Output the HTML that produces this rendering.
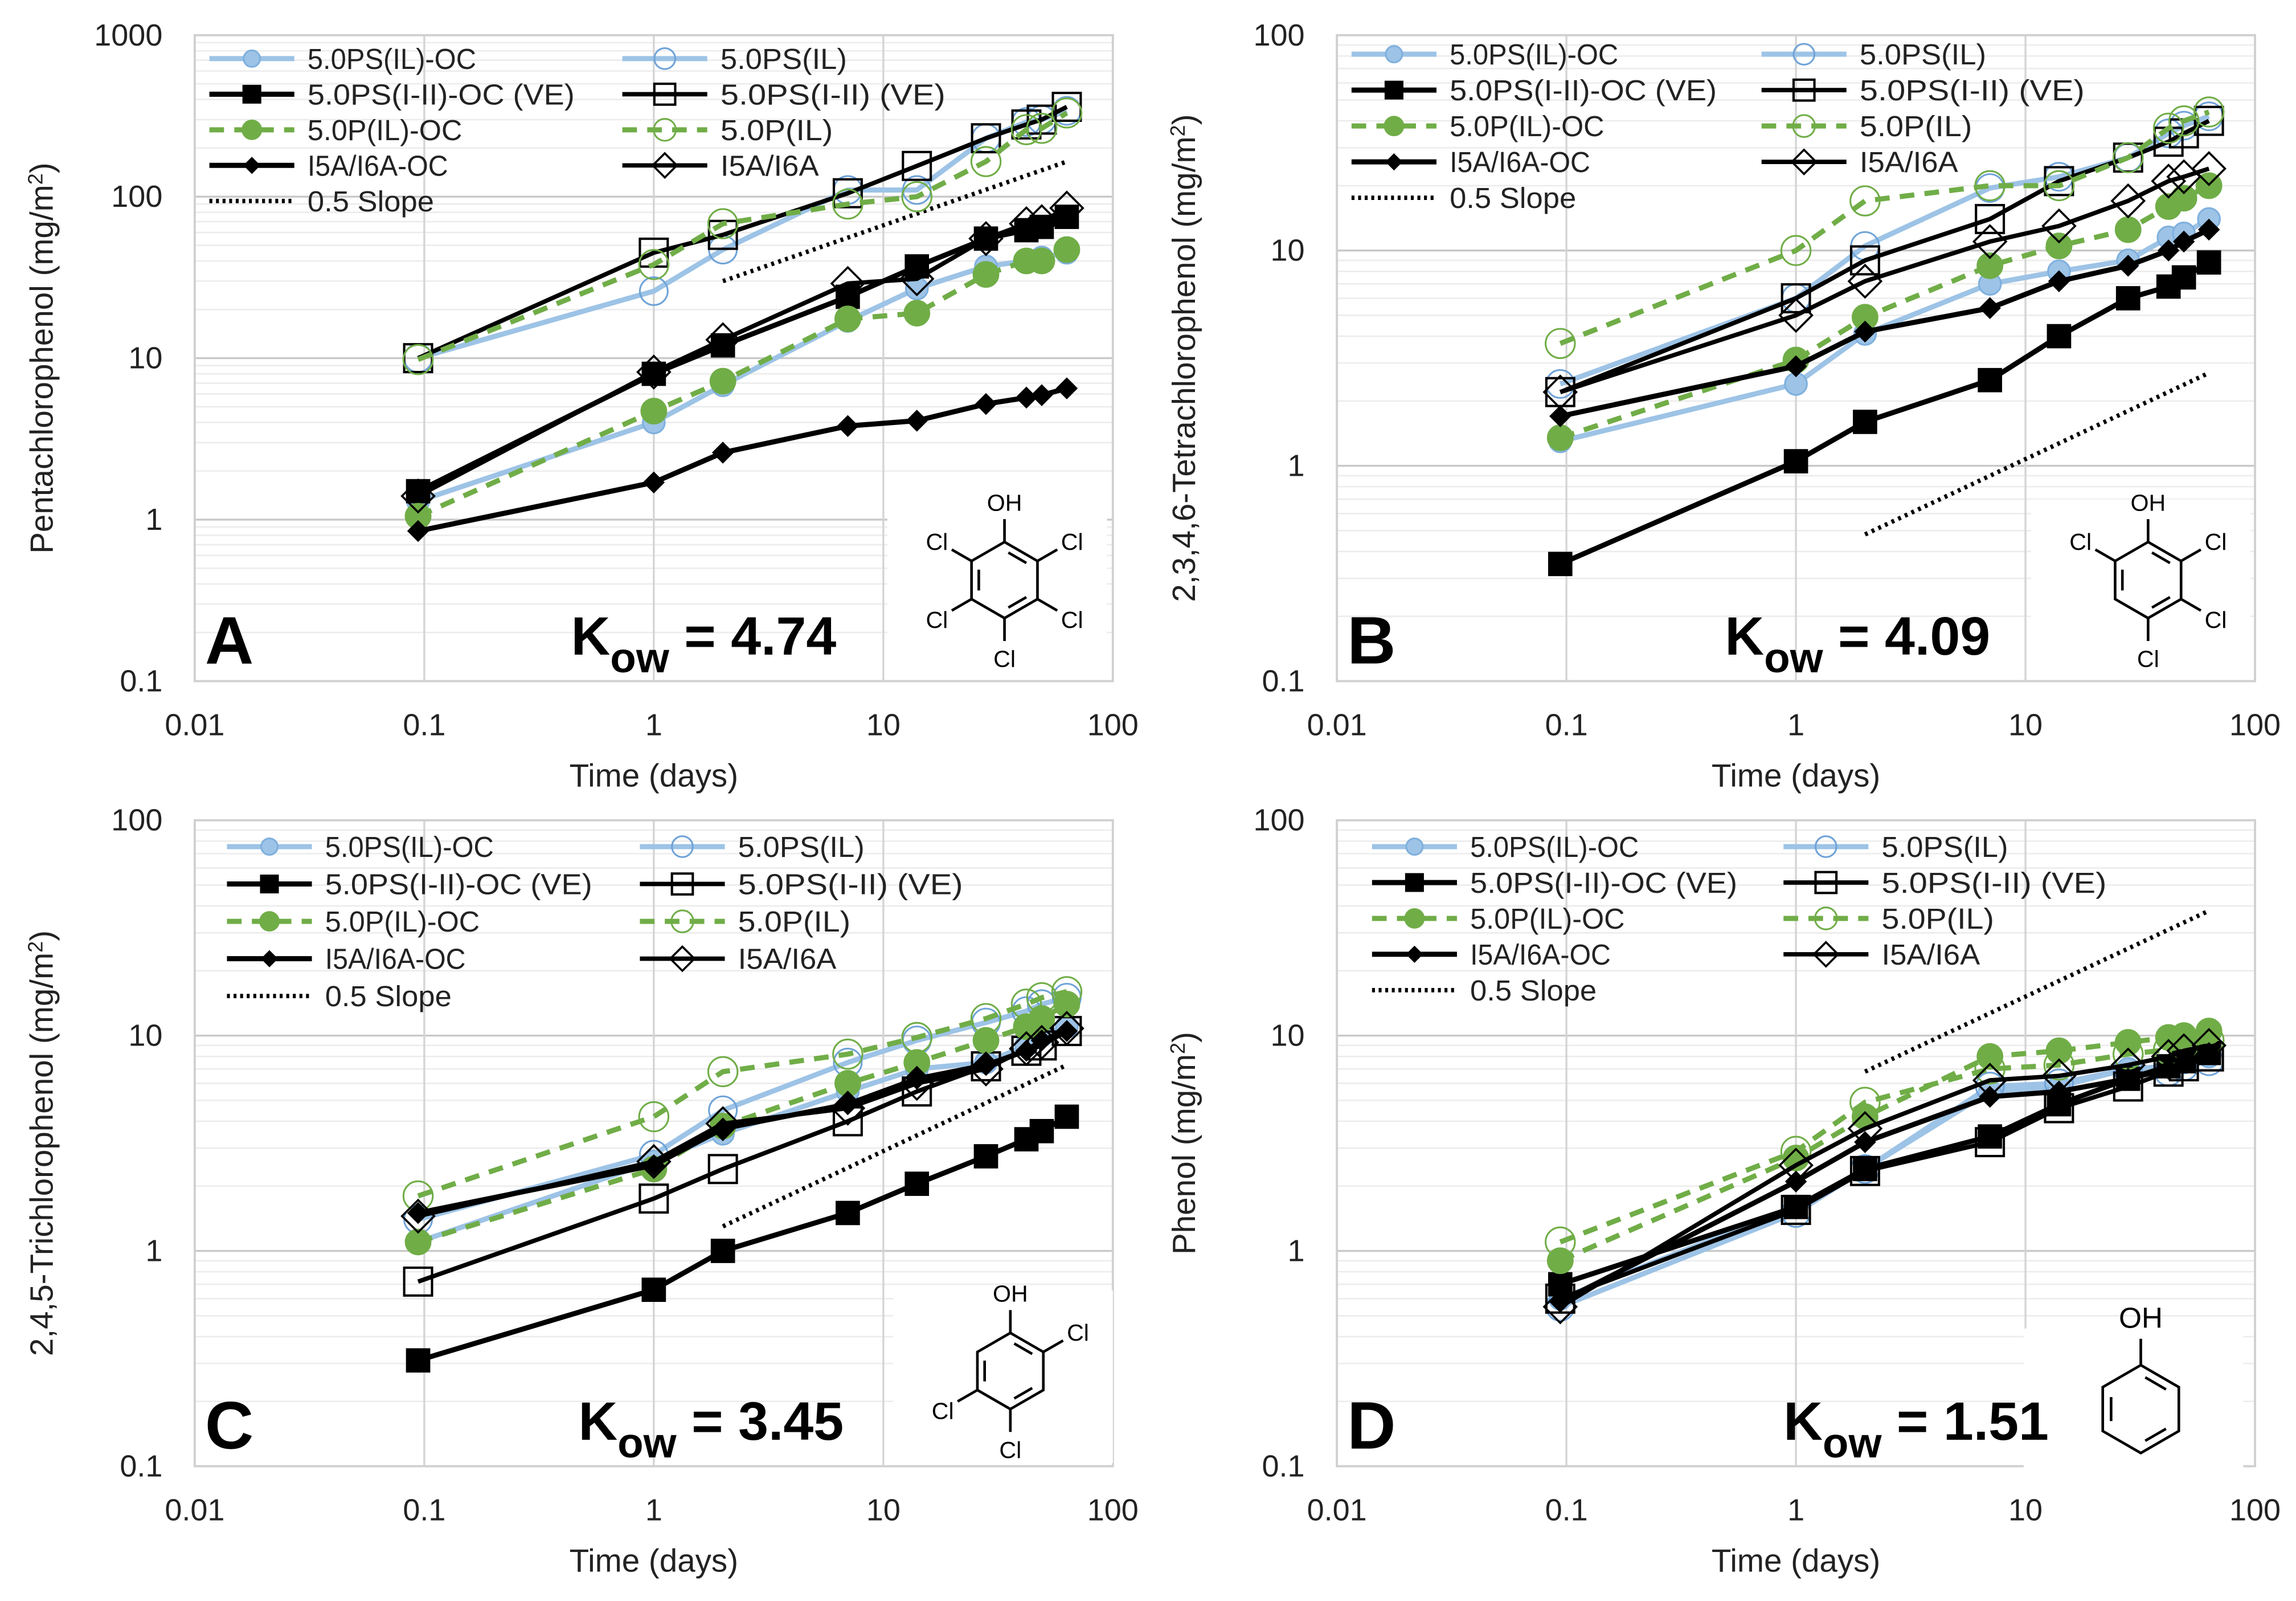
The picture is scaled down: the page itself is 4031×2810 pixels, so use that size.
<!DOCTYPE html>
<html><head><meta charset="utf-8"><style>
html,body{margin:0;padding:0;background:#fff;}
svg{display:block;font-family:"Liberation Sans",sans-serif;}
</style></head><body>
<svg id="fig" width="4031" height="2810" viewBox="0 0 1568 1093" xmlns="http://www.w3.org/2000/svg"></svg>
<script>
const times = [0.094, 1, 2, 7, 14, 28, 42, 49, 63];
const seriesNames = ["5.0PS(IL)-OC","5.0PS(IL)","5.0PS(I-II)-OC (VE)","5.0PS(I-II) (VE)","5.0P(IL)-OC","5.0P(IL)","I5A/I6A-OC","I5A/I6A"];
const xTickLabels = ["0.01","0.1","1","10","100"];
// Panel A
const aBlueOC   = [1.3, 4, 6.8, 17, 27, 37, 40, 42, 45];
const aBlue     = [10, 26, 47, 110, 110, 230, 290, 300, 340];
const aSqOC     = [1.5, 8, 12, 24, 37, 55, 62, 65, 75];
const aSq       = [10, 45, 58, 105, 155, 230, 280, 300, 360];
const aGreenOC  = [1.05, 4.7, 7.2, 17.5, 19, 33, 40, 40, 47];
const aGreen    = [9.8, 38, 68, 90, 100, 165, 260, 265, 330];
const aDiaOC    = [0.85, 1.7, 2.6, 3.8, 4.1, 5.2, 5.7, 5.9, 6.5];
const aDia      = [1.4, 8.2, 13, 29, 31, 55, 68, 70, 85];
const aSlope    = [[2, 30], [63, 165]];
const aYTicks   = ["0.1","1","10","100","1000"];
// Panel B
const bBlueOC   = [1.3, 2.4, 4.1, 7, 8, 9, 11.5, 12, 14];
const bBlue     = [2.4, 6, 10.5, 19.5, 22, 27, 35, 38, 42];
const bSqOC     = [0.35, 1.05, 1.6, 2.5, 4, 6, 6.8, 7.5, 8.8];
const bSq       = [2.2, 6, 9, 14, 21, 27, 32, 35, 40];
const bGreenOC  = [1.35, 3.1, 4.9, 8.5, 10.5, 12.5, 16, 17.5, 20];
const bGreen    = [3.7, 10, 17, 20, 20, 27, 37, 40, 44];
const bDiaOC    = [1.7, 2.9, 4.2, 5.4, 7.2, 8.5, 10, 11, 12.5];
const bDia      = [2.2, 5, 7.2, 11, 13, 17, 21, 22, 24];
const bSlope    = [[2, 0.48], [63, 2.7]];
const bYTicks   = ["0.1","1","10","100"];
// Panel C
const cBlueOC   = [1.1, 2.6, 3.5, 5.5, 7, 7.5, 9, 10, 11];
const cBlue     = [1.4, 2.8, 4.5, 7.5, 9.5, 11.5, 13, 14, 15];
const cSqOC     = [0.31, 0.66, 1.0, 1.5, 2.05, 2.75, 3.3, 3.6, 4.2];
const cSq       = [0.72, 1.75, 2.4, 4, 5.5, 7.2, 8.5, 9, 10.5];
const cGreenOC  = [1.1, 2.4, 3.8, 6, 7.5, 9.5, 11, 12, 14];
const cGreen    = [1.8, 4.2, 6.8, 8.2, 9.8, 12, 14, 15, 16];
const cDiaOC    = [1.5, 2.5, 3.7, 4.8, 6.3, 7.3, 8.5, 9.5, 10.5];
const cDia      = [1.45, 2.6, 3.9, 4.6, 6, 7, 8.7, 9.3, 10.8];
const cSlope    = [[2, 1.3], [63, 7.3]];
const cYTicks   = ["0.1","1","10","100"];
// Panel D
const dBlueOC   = [0.6, 1.6, 2.4, 5.5, 5.8, 7, 7.2, 7.5, 8];
const dBlue     = [0.55, 1.5, 2.4, 5.8, 6, 7, 6.8, 7.2, 7.6];
const dSqOC     = [0.7, 1.6, 2.4, 3.4, 4.8, 6.3, 7.2, 7.6, 8.3];
const dSq       = [0.6, 1.55, 2.35, 3.2, 4.6, 5.8, 6.8, 7.2, 8];
const dGreenOC  = [0.9, 2.7, 4.2, 8, 8.5, 9.3, 9.8, 10, 10.5];
const dGreen    = [1.1, 2.9, 4.9, 7, 7.3, 8.2, 8.6, 9, 9.5];
const dDiaOC    = [0.58, 2.1, 3.2, 5.2, 5.5, 6.3, 7, 7.6, 8.3];
const dDia      = [0.55, 2.5, 3.7, 6.2, 6.5, 7.3, 8, 8.5, 9];
const dSlope    = [[2, 6.8], [63, 38]];
const dYTicks   = ["0.1","1","10","100"];

const NS = "http://www.w3.org/2000/svg";
const svg = document.getElementById("fig");
function mk(tag, attrs, parent) {
  const e = document.createElementNS(NS, tag);
  for (const k in attrs) e.setAttribute(k, attrs[k]);
  (parent || svg).appendChild(e);
  return e;
}
const BLUE = "#9dc3e6", GREEN = "#70ad47";
const styles = [
  {stroke: BLUE, w: 3.5, dash: null, m: "circle", fill: BLUE, mstroke: "#7fb0de", r: 7.5},
  {stroke: BLUE, w: 3.5, dash: null, m: "circle", fill: "none", mstroke: "#6fa3d8", r: 9.5},
  {stroke: "#000", w: 3.5, dash: null, m: "square", fill: "#000", mstroke: "#000", r: 7.5},
  {stroke: "#000", w: 3, dash: null, m: "square", fill: "none", mstroke: "#000", r: 9.5},
  {stroke: GREEN, w: 3.5, dash: "10,7", m: "circle", fill: GREEN, mstroke: GREEN, r: 8.5},
  {stroke: GREEN, w: 3.5, dash: "10,7", m: "circle", fill: "none", mstroke: GREEN, r: 10},
  {stroke: "#000", w: 3.5, dash: null, m: "diamond", fill: "#000", mstroke: "#000", r: 6.5},
  {stroke: "#000", w: 3, dash: null, m: "diamond", fill: "none", mstroke: "#000", r: 11}
];
function marker(g, st, x, y, scale) {
  const r = st.r * (scale || 1);
  let e;
  if (st.m === "circle") e = mk("circle", {cx: x, cy: y, r: r, fill: st.fill, stroke: st.mstroke, "stroke-width": 1.2}, g);
  else if (st.m === "square") e = mk("rect", {x: x - r, y: y - r, width: 2 * r, height: 2 * r, fill: st.fill === "none" ? "#fff" : st.fill, "fill-opacity": st.fill === "none" ? 0 : 1, stroke: st.mstroke, "stroke-width": 1.6}, g);
  else e = mk("polygon", {points: `${x},${y - r} ${x + r},${y} ${x},${y + r} ${x - r},${y}`, fill: st.fill, stroke: st.mstroke, "stroke-width": 1.4}, g);
  
  
  return e;
}

function panel(p) {
  const g = mk("g", {});
  
  
  const L = p.left, R = p.left + 627, T = p.top, B = p.top + 441;
  const yMinE = -1, yMaxE = yMinE + p.yTicks.length - 1;
  const xs = v => L + (Math.log10(v) + 2) / 4 * (R - L);
  const ys = v => B - (Math.log10(v) - yMinE) / (yMaxE - yMinE) * (B - T);
  for (let e = yMinE; e < yMaxE; e++) for (let k = 2; k <= 9; k++) {
    const y = ys(k * Math.pow(10, e));
    const gl = mk("line", {x1: L, x2: R, y1: y, y2: y, stroke: "#ececec", "stroke-width": 1}, g);
    
    
  }
  for (let e = yMinE + 1; e < yMaxE; e++) {
    const y = ys(Math.pow(10, e));
    const gl = mk("line", {x1: L, x2: R, y1: y, y2: y, stroke: "#c8c8c8", "stroke-width": 1.3}, g);
    
    
  }
  for (let e = -1; e <= 1; e++) {
    const x = xs(Math.pow(10, e));
    const gl = mk("line", {x1: x, x2: x, y1: T, y2: B, stroke: "#d4d4d4", "stroke-width": 1.3}, g);
    
    
  }
  const box = mk("rect", {x: L, y: T, width: R - L, height: B - T, fill: "none", stroke: "#d0d0d0", "stroke-width": 1.5}, g);
  
  
  const wb = mk("rect", {x: p.mol.x - 80, y: p.mol.y - 55, width: 150, height: 118, fill: "#fff"}, g);
  
  
  p.yTicks.forEach((t, i) => {
    const tx = mk("text", {x: L - 22, y: ys(Math.pow(10, yMinE + i)) + 7, "text-anchor": "end", "font-size": 21, fill: "#222"}, g);
    tx.textContent = t;
    
    
  });
  xTickLabels.forEach((t, i) => {
    const tx = mk("text", {x: xs(Math.pow(10, i - 2)), y: B + 37, "text-anchor": "middle", "font-size": 21, fill: "#222"}, g);
    tx.textContent = t;
    
    
  });
  const xt = mk("text", {x: (L + R) / 2, y: B + 72, "text-anchor": "middle", "font-size": 22, fill: "#222"}, g);
  xt.textContent = "Time (days)";
  
  
  const yt = mk("text", {x: 0, y: 0, "text-anchor": "middle", "font-size": 22, fill: "#222", transform: `translate(${p.left - 97},${(T + B) / 2}) rotate(-90)`}, g);
  yt.innerHTML = p.yTitle;
  
  
  const sl = mk("line", {x1: xs(p.slope[0][0]), y1: ys(p.slope[0][1]), x2: xs(p.slope[1][0]), y2: ys(p.slope[1][1]), stroke: "#000", "stroke-width": 3, "stroke-dasharray": "2,3"}, g);
  
  
  p.series.forEach((vals, si) => {
    const st = styles[si];
    const pts = vals.map((v, i) => `${xs(times[i])},${ys(v)}`).join(" ");
    const ln = mk("polyline", {points: pts, fill: "none", stroke: st.stroke, "stroke-width": st.w, "stroke-linejoin": "round"}, g);
    if (st.dash) ln.setAttribute("stroke-dasharray", st.dash);
    
    
    vals.forEach((v, i) => marker(g, st, xs(times[i]), ys(v)));
  });
  const lg = mk("g", {}, g);
  
  
  const items = seriesNames.map((n, i) => ({n, i})).concat([{n: "0.5 Slope", i: -1}]);
  items.forEach(it => {
    const col = it.i >= 0 ? it.i % 2 : 0, row = it.i >= 0 ? Math.floor(it.i / 2) : 4;
    const x0 = p.leg.x + col * p.leg.dx, y0 = p.leg.y + row * p.leg.dy;
    const ent = mk("g", {}, lg);
    
    
    if (it.i >= 0) {
      const st = styles[it.i];
      const l = mk("line", {x1: x0, x2: x0 + 58, y1: y0, y2: y0, stroke: st.stroke, "stroke-width": st.w}, ent);
      if (st.dash) l.setAttribute("stroke-dasharray", st.dash);
      marker(ent, st, x0 + 29, y0, 0.75);
    } else {
      mk("line", {x1: x0, x2: x0 + 58, y1: y0, y2: y0, stroke: "#000", "stroke-width": 3, "stroke-dasharray": "2,2.5"}, ent);
    }
    const tx = mk("text", {x: x0 + 67, y: y0 + 7, "font-size": 20, fill: "#222", textLength: it.n.length * 9.6, lengthAdjust: "spacingAndGlyphs"}, ent);
    tx.textContent = it.n;
  });
  const lt = mk("text", {x: L + 7, y: B - 12, "font-size": 46, "font-weight": "bold", fill: "#000"}, g);
  lt.textContent = p.letter;
  
  
  const kw = mk("text", {x: p.kx, y: B - 18, "font-size": 37, "font-weight": "bold", fill: "#000"}, g);
  kw.innerHTML = `K<tspan dy="12" font-size="29">ow</tspan><tspan dy="-12"> = ${p.kow}</tspan>`;
  
  
  drawMol(g, p.mol);
}
function drawMol(g, m) {
  const mg = mk("g", {stroke: "#000", "stroke-width": 1.8, fill: "none"}, g);
  
  
  const r = m.r, v = [];
  for (let k = 0; k < 6; k++) { const a = (-90 + 60 * k) * Math.PI / 180; v.push([m.x + r * Math.cos(a), m.y + r * Math.sin(a)]); }
  mk("polygon", {points: v.map(q => q.join(",")).join(" ")}, mg);
  [[0, 1], [2, 3], [4, 5]].forEach(([a, b]) => {
    const f = 0.78, s = 0.15;
    const ax = m.x + (v[a][0] - m.x) * f, ay = m.y + (v[a][1] - m.y) * f, bx = m.x + (v[b][0] - m.x) * f, by = m.y + (v[b][1] - m.y) * f;
    mk("line", {x1: ax + (bx - ax) * s, y1: ay + (by - ay) * s, x2: bx - (bx - ax) * s, y2: by - (by - ay) * s}, mg);
  });
  const sub = (k, label) => {
    const a = (-90 + 60 * k) * Math.PI / 180;
    const ex = m.x + r * 1.6 * Math.cos(a), ey = m.y + r * 1.6 * Math.sin(a);
    mk("line", {x1: v[k][0], y1: v[k][1], x2: ex, y2: ey}, mg);
    const tx = mk("text", {x: m.x + r * 2.05 * Math.cos(a), y: m.y + r * 2.05 * Math.sin(a) + 6, "text-anchor": "middle", "font-size": m.fs, fill: "#000", stroke: "none"}, mg);
    tx.textContent = label;
  };
  sub(0, "OH");
  m.cl.forEach(k => sub(k, "Cl"));
}
const yt2 = u => `${u} (mg/m<tspan dy="-7" font-size="14">2</tspan><tspan dy="7">)</tspan>`;
panel({letter: "A", left: 133, top: 24, yTicks: aYTicks, yTitle: yt2("Pentachlorophenol"), series: [aBlueOC, aBlue, aSqOC, aSq, aGreenOC, aGreen, aDiaOC, aDia], slope: aSlope, leg: {x: 143, y: 40, dx: 282, dy: 24.3}, kx: 390, kow: "4.74", mol: {x: 686, y: 396, r: 26, cl: [1, 2, 3, 4, 5], fs: 16}});
panel({letter: "B", left: 913, top: 24, yTicks: bYTicks, yTitle: yt2("2,3,4,6-Tetrachlorophenol"), series: [bBlueOC, bBlue, bSqOC, bSq, bGreenOC, bGreen, bDiaOC, bDia], slope: bSlope, leg: {x: 923, y: 37, dx: 280, dy: 24.5}, kx: 1178, kow: "4.09", mol: {x: 1467, y: 396, r: 26, cl: [1, 2, 3, 5], fs: 16}});
panel({letter: "C", left: 133, top: 560, yTicks: cYTicks, yTitle: yt2("2,4,5-Trichlorophenol"), series: [cBlueOC, cBlue, cSqOC, cSq, cGreenOC, cGreen, cDiaOC, cDia], slope: cSlope, leg: {x: 155, y: 578, dx: 282, dy: 25.5}, kx: 395, kow: "3.45", mol: {x: 690, y: 936, r: 26, cl: [1, 3, 4], fs: 16}});
panel({letter: "D", left: 913, top: 560, yTicks: dYTicks, yTitle: yt2("Phenol"), series: [dBlueOC, dBlue, dSqOC, dSq, dGreenOC, dGreen, dDiaOC, dDia], slope: dSlope, leg: {x: 937, y: 578, dx: 281, dy: 24.5}, kx: 1218, kow: "1.51", mol: {x: 1462, y: 962, r: 30, cl: [], fs: 20}});
</script>
</body></html>
